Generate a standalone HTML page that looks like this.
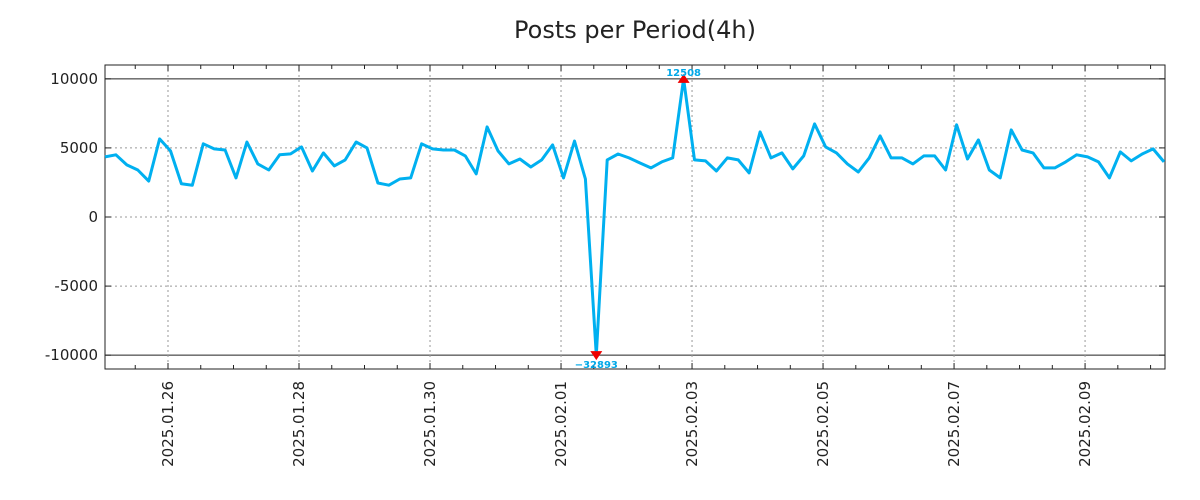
<!DOCTYPE html>
<html><head><meta charset="utf-8"><style>
body{margin:0;background:#fff;}
svg{display:block;font-family:"DejaVu Sans","Liberation Sans",sans-serif;}
</style></head><body>
<svg id="chart" width="1200" height="500" xmlns="http://www.w3.org/2000/svg">
<text x="635" y="38" font-size="24" text-anchor="middle" fill="#222">Posts per Period(4h)</text>
<g id="grid"></g><g id="axes"></g><g id="series"></g><g id="annot"></g>
</svg>
<script>
const values=[4350,4500,3770,3400,2600,5650,4780,2400,2300,5300,4930,4850,2830,5430,3840,3400,4500,4570,5070,3330,4640,3700,4130,5430,5000,2460,2300,2750,2830,5300,4930,4850,4850,
4420,3120,6520,4780,3840,4200,3620,4130,5220,2830,5500,2750,-32893,4130,4560,4280,3910,3550,3990,4280,12508,4130,4060,3330,4280,4130,3190,6160,4280,4640,3480,4420,
6740,5070,4640,3840,3260,4280,5870,4280,4280,3840,4420,4420,3400,6670,4200,5580,3400,2830,6300,4850,4640,3550,3550,3990,4500,4350,3990,2830,4710,4060,4560,4930,3990];
const dayLabels=["2025.01.26","2025.01.28","2025.01.30","2025.02.01","2025.02.03","2025.02.05","2025.02.07","2025.02.09"];
const yTicks=[10000,5000,0,-5000,-10000];
const firstDayIndex=5.77;
const CLIP=10000;
const L=105,R=1165,T=65,B=369,YMAX=11000,YMIN=-11000;
const NS="http://www.w3.org/2000/svg";
const xs=i=>L+(i)*(R-1-L)/(values.length-1);
const ys=v=>T+(YMAX-v)/(YMAX-YMIN)*(B-T);
const yc=v=>ys(Math.max(-CLIP,Math.min(CLIP,v)));
function mk(tag,attrs,parent){const e=document.createElementNS(NS,tag);for(const k in attrs)e.setAttribute(k,attrs[k]);document.getElementById(parent).appendChild(e);return e;}
yTicks.forEach(v=>{
 const y=ys(v);
 const solid=Math.abs(v)===10000;
 const g=mk('line',{x1:L,x2:R,y1:y,y2:y,stroke:solid?'#222':'#999','stroke-width':1,'stroke-dasharray':solid?'':'2,3'},'grid');
 
 
 mk('line',{x1:L,x2:L+6,y1:y,y2:y,stroke:'#222'},'axes');
 mk('line',{x1:R-6,x2:R,y1:y,y2:y,stroke:'#222'},'axes');
 const t=mk('text',{x:98,y:y+5,'font-size':15,'text-anchor':'end',fill:'#222'},'axes');
 t.textContent=v;
 
 
});
for(let k=-2;k<40;k++){
 const i=firstDayIndex+3*k; const x=xs(i);
 if(x<L||x>R)continue;
 const major=(k%4===0);
 mk('line',{x1:x,x2:x,y1:T,y2:T+(major?6:4),stroke:'#222'},'axes');
 mk('line',{x1:x,x2:x,y1:B-(major?6:4),y2:B,stroke:'#222'},'axes');
 if(major){
  const g=mk('line',{x1:x,x2:x,y1:T,y2:B,stroke:'#999','stroke-dasharray':'2,3'},'grid');
  
  
  const lab=dayLabels[k/4];
  if(lab){
   const t=mk('text',{x:0,y:0,'font-size':15,'text-anchor':'end',fill:'#222',transform:`translate(${x+5},${381}) rotate(-90)`},'axes');
   t.textContent=lab;
   
   
  }
 }
}
const frame=mk('rect',{x:L,y:T,width:R-L,height:B-T,fill:'none',stroke:'#222','stroke-width':1},'axes');


const pts=values.map((v,i)=>xs(i).toFixed(1)+','+yc(v).toFixed(1)).join(' ');
const line=mk('polyline',{points:pts,fill:'none',stroke:'#00b0f0','stroke-width':3,'stroke-linejoin':'round'},'series');


let imax=0,imin=0;values.forEach((v,i)=>{if(v>values[imax])imax=i;if(v<values[imin])imin=i;});
{const x=xs(imax),y=yc(values[imax]);
 const m=mk('polygon',{points:`${x-6},${y+4} ${x+6},${y+4} ${x},${y-5}`,fill:'#e00'},'annot');
 
 
 const t=mk('text',{x:x,y:y-3,'font-size':10,'font-weight':'bold','text-anchor':'middle',fill:'#00a8e8'},'annot');
 t.textContent=values[imax];
 
 }
{const x=xs(imin),y=yc(values[imin]);
 const m=mk('polygon',{points:`${x-6},${y-4} ${x+6},${y-4} ${x},${y+5}`,fill:'#e00'},'annot');
 
 
 const t=mk('text',{x:x,y:y+13,'font-size':10,'font-weight':'bold','text-anchor':'middle',fill:'#00a8e8'},'annot');
 t.textContent='\u2212'+Math.abs(values[imin]);
 
 }
</script>
</body></html>
